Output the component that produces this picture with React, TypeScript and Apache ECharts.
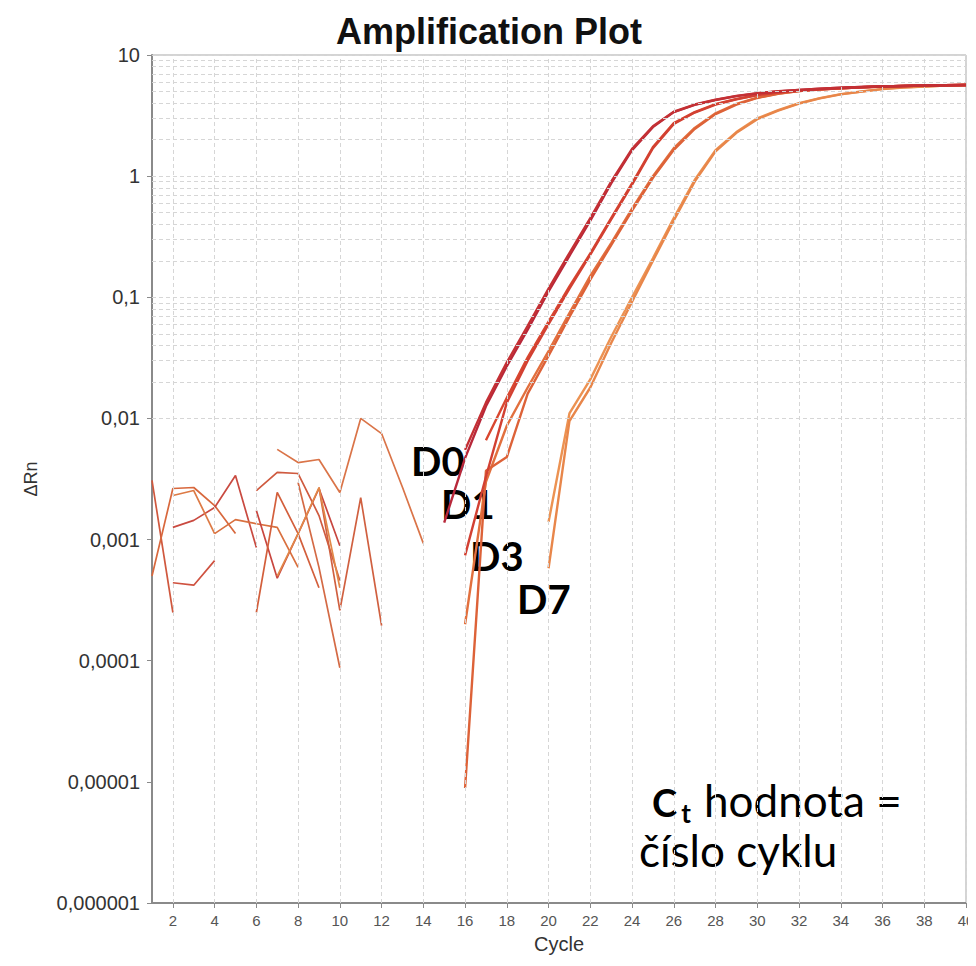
import React, { useEffect, useRef } from "react";
import * as echarts from "echarts";

// ---------- data ----------
const xTicks = [2, 4, 6, 8, 10, 12, 14, 16, 18, 20, 22, 24, 26, 28, 30, 32, 34, 36, 38, 40];

// amplification curves (cycle -> ΔRn)
const d0aCycles = [15, 16, 17, 18, 19, 20, 21, 22, 23, 24, 25, 26, 27, 28, 29, 30, 31, 32, 33, 34, 35, 36, 37, 38, 39, 40];
const d0aValues = [0.00138, 0.0047, 0.0126, 0.027, 0.054, 0.112, 0.22, 0.43, 0.87, 1.64, 2.54, 3.38, 3.87, 4.25, 4.58, 4.82, 5.0, 5.14, 5.26, 5.37, 5.44, 5.5, 5.55, 5.6, 5.62, 5.65];
const d0bCycles = [16, 17, 18, 19, 20, 21, 22, 23, 24, 25, 26, 27, 28, 29, 30, 31, 32, 33, 34, 35, 36, 37, 38, 39, 40];
const d0bValues = [0.0055, 0.0135, 0.029, 0.058, 0.118, 0.232, 0.45, 0.9, 1.68, 2.58, 3.4, 3.9, 4.27, 4.6, 4.84, 5.02, 5.15, 5.27, 5.38, 5.45, 5.5, 5.55, 5.6, 5.62, 5.65];

const d1aCycles = [17, 18, 19, 20, 21, 22, 23, 24, 25, 26, 27, 28, 29, 30, 31, 32, 33, 34, 35, 36, 37, 38, 39, 40];
const d1aValues = [0.0066, 0.0148, 0.032, 0.063, 0.123, 0.23, 0.45, 0.87, 1.74, 2.74, 3.38, 3.93, 4.33, 4.68, 4.92, 5.08, 5.2, 5.32, 5.42, 5.5, 5.55, 5.6, 5.62, 5.65];
const d1bCycles = [16, 17, 18, 19, 20, 21, 22, 23, 24, 25, 26, 27, 28, 29, 30, 31, 32, 33, 34, 35, 36, 37, 38, 39, 40];
const d1bValues = [0.00074, 0.0033, 0.0135, 0.03, 0.06, 0.118, 0.225, 0.44, 0.85, 1.7, 2.7, 3.35, 3.9, 4.3, 4.66, 4.9, 5.07, 5.2, 5.32, 5.42, 5.5, 5.55, 5.6, 5.62, 5.65];

const d3aCycles = [16, 17, 18, 19, 20, 21, 22, 23, 24, 25, 26, 27, 28, 29, 30, 31, 32, 33, 34, 35, 36, 37, 38, 39, 40];
const d3aValues = [0.0002, 0.003, 0.0087, 0.018, 0.036, 0.074, 0.15, 0.28, 0.54, 1.0, 1.7, 2.5, 3.3, 3.95, 4.45, 4.8, 5.05, 5.2, 5.32, 5.42, 5.5, 5.55, 5.6, 5.63, 5.65];
const d3bCycles = [16, 17, 18, 19, 20, 21, 22, 23, 24, 25, 26, 27, 28, 29, 30, 31, 32, 33, 34, 35, 36, 37, 38, 39, 40];
const d3bValues = [0.0000089, 0.0037, 0.0048, 0.016, 0.033, 0.069, 0.14, 0.27, 0.52, 0.97, 1.65, 2.45, 3.25, 3.9, 4.42, 4.78, 5.03, 5.19, 5.31, 5.41, 5.5, 5.55, 5.6, 5.63, 5.65];

const d7aCycles = [20, 21, 22, 23, 24, 25, 26, 27, 28, 29, 30, 31, 32, 33, 34, 35, 36, 37, 38, 39, 40];
const d7aValues = [0.0014, 0.011, 0.021, 0.047, 0.1, 0.21, 0.45, 0.93, 1.64, 2.31, 3.0, 3.5, 4.0, 4.4, 4.75, 5.0, 5.25, 5.4, 5.5, 5.6, 5.65];
const d7bCycles = [20, 21, 22, 23, 24, 25, 26, 27, 28, 29, 30, 31, 32, 33, 34, 35, 36, 37, 38, 39, 40];
const d7bValues = [0.00058, 0.0095, 0.018, 0.042, 0.092, 0.2, 0.43, 0.9, 1.6, 2.28, 2.95, 3.47, 3.97, 4.38, 4.73, 4.98, 5.23, 5.38, 5.5, 5.6, 5.65];

// early-cycle background noise
const nz1Cycles = [1, 2];
const nz1Values = [0.00308, 0.00025];
const nz2Cycles = [1, 2, 3, 4, 5];
const nz2Values = [0.0005, 0.00264, 0.00269, 0.00191, 0.00112];
const nz3Cycles = [2, 3, 4, 5, 6];
const nz3Values = [0.00126, 0.00144, 0.00184, 0.00338, 0.00086];
const nz4Cycles = [2, 3, 4];
const nz4Values = [0.00044, 0.00042, 0.00067];
const nz5Cycles = [2, 3, 4];
const nz5Values = [0.00231, 0.00254, 0.00112];
const nz6Cycles = [4, 5, 6, 7, 8];
const nz6Values = [0.00112, 0.00146, 0.00135, 0.00126, 0.00059];
const nz7Cycles = [6, 7, 8, 9, 10];
const nz7Values = [0.00254, 0.00358, 0.00351, 0.00158, 0.00046];
const nz8Cycles = [6, 7, 8, 9, 10];
const nz8Values = [0.00174, 0.00048, 0.00112, 0.00264, 0.00089];
const nz9Cycles = [6, 7, 8, 9];
const nz9Values = [0.00025, 0.00245, 0.00112, 0.0004];
const nz10Cycles = [8, 9, 10];
const nz10Values = [0.00296, 0.00059, 0.0000875];
const nz11Cycles = [9, 10, 11, 12];
const nz11Values = [0.00269, 0.00026, 0.00222, 0.000195];
const nz12Cycles = [7, 8, 9, 10, 11, 12, 13, 14];
const nz12Values = [0.00555, 0.00432, 0.00458, 0.00245, 0.01, 0.0075, 0.0027, 0.00093];
const nz13Cycles = [7, 8, 9, 10];
const nz13Values = [0.0005, 0.00112, 0.00269, 0.0004];

const zip = (c: number[], v: number[]) => c.map((x, i) => [x, v[i]]);

const fmtY = (v: number) => {
  if (v >= 1) return String(Math.round(v));
  const d = Math.round(-Math.log10(v));
  return v.toFixed(d).replace(".", ",");
};

const GRID_COLOR = "#d6d6d6";
const SANS = "'Liberation Sans', Arial, sans-serif";

export default function App() {
  const ref = useRef<HTMLDivElement>(null);
  useEffect(() => {
    if (!ref.current) return;
    const chart = echarts.init(ref.current, undefined, { renderer: "svg" });

    const hLines: number[] = [];
    for (let k = -6; k <= 0; k++) {
      for (let m = 1; m <= 9; m++) hLines.push(m * Math.pow(10, k));
    }
    hLines.push(10);

    const noise = [
      [nz1Cycles, nz1Values, "#d0583e"],
      [nz2Cycles, nz2Values, "#d8683d"],
      [nz3Cycles, nz3Values, "#c94a40"],
      [nz4Cycles, nz4Values, "#cf5240"],
      [nz5Cycles, nz5Values, "#dd7a45"],
      [nz6Cycles, nz6Values, "#d9703f"],
      [nz7Cycles, nz7Values, "#cf5a3f"],
      [nz8Cycles, nz8Values, "#c8463f"],
      [nz9Cycles, nz9Values, "#d35f3c"],
      [nz10Cycles, nz10Values, "#d46a45"],
      [nz11Cycles, nz11Values, "#d06040"],
      [nz12Cycles, nz12Values, "#da7448"],
      [nz13Cycles, nz13Values, "#e28848"],
    ] as [number[], number[], string][];

    const curves = [
      [d7aCycles, d7aValues, "#ec9252"],
      [d7bCycles, d7bValues, "#e8864a"],
      [d3aCycles, d3aValues, "#e2703e"],
      [d3bCycles, d3bValues, "#dd6238"],
      [d1aCycles, d1aValues, "#d9472f"],
      [d1bCycles, d1bValues, "#d24032"],
      [d0aCycles, d0aValues, "#b8283a"],
      [d0bCycles, d0bValues, "#c43034"],
    ] as [number[], number[], string][];

    const series: any[] = [
      {
        type: "line",
        data: [],
        silent: true,
        markLine: {
          silent: true,
          symbol: "none",
          animation: false,
          label: { show: false },
          lineStyle: { color: GRID_COLOR, type: [4, 3], width: 1 },
          data: [
            ...hLines.map((v) => ({ yAxis: v })),
            ...xTicks.map((v) => ({ xAxis: v })),
          ],
        },
      },
      ...noise.map(([c, v, col]) => ({
        type: "line",
        data: zip(c, v),
        showSymbol: false,
        symbol: "none",
        silent: true,
        lineStyle: { color: col, width: 1.7 },
      })),
      ...curves.map(([c, v, col]) => ({
        type: "line",
        data: zip(c, v),
        showSymbol: false,
        symbol: "none",
        silent: true,
        lineStyle: { color: col, width: 2.4 },
      })),
    ];

    const annFont = "Lato, 'Open Sans', sans-serif";
    const bold = (text: string, left: number, top: number, size = 40) => ({
      type: "text",
      left,
      top,
      style: { text, fontFamily: annFont, fontWeight: "bold", fontSize: size, fill: "#000" },
    });
    const option: any = {
      animation: false,
      title: {
        text: "Amplification Plot",
        left: 484 - 8,
        textAlign: "center",
        top: 0,
        textStyle: { fontFamily: SANS, fontWeight: "bold", fontSize: 36, color: "#111" },
      },
      grid: {
        left: 144,
        right: 10,
        top: 47,
        bottom: 55,
        show: true,
        borderColor: "#a8a8a8",
        borderWidth: 1,
        containLabel: false,
        outerBoundsMode: "none",
      },
      xAxis: {
        type: "value",
        min: 1,
        max: 40,
        name: "Cycle",
        nameLocation: "middle",
        nameGap: 31,
        nameTextStyle: { fontFamily: SANS, fontSize: 20, color: "#333" },
        axisLine: { show: true, onZero: false, lineStyle: { color: "#8a8a8a", width: 2 } },
        axisTick: { show: true, customValues: xTicks, length: 5, lineStyle: { color: "#8a8a8a" } },
        axisLabel: { customValues: xTicks, fontFamily: SANS, fontSize: 15, color: "#555", margin: 10, hideOverlap: false },
        splitLine: { show: false },
      },
      yAxis: {
        type: "log",
        logBase: 10,
        min: 0.000001,
        max: 10,
        interval: 1,
        name: "ΔRn",
        nameLocation: "middle",
        nameGap: 112,
        nameRotate: 90,
        nameTextStyle: { fontFamily: SANS, fontSize: 18, color: "#333" },
        axisLine: { show: true, onZero: false, lineStyle: { color: "#8a8a8a", width: 2 } },
        axisTick: { show: true, length: 5, lineStyle: { color: "#8a8a8a" } },
        axisLabel: { formatter: fmtY, fontFamily: SANS, fontSize: 20, color: "#333", margin: 12 },
        splitLine: { show: false },
      },
      graphic: [
        bold("D0", 403, 433),
        bold("D1", 433, 476),
        bold("D3", 462, 528),
        bold("D7", 509, 571),
        {
          type: "text",
          left: 644,
          top: 775,
          style: {
            text: "{c|C}{t|t}",
            fontFamily: annFont,
            fill: "#000",
            rich: {
              c: { fontFamily: annFont, fontWeight: "bold", fontSize: 38, lineHeight: 38, verticalAlign: "top", fill: "#000" },
              t: { fontFamily: annFont, fontWeight: "bold", fontSize: 26, lineHeight: 26, verticalAlign: "top", padding: [17, 0, 0, 4], fill: "#000" },
            },
          },
        },
        {
          type: "text",
          left: 696,
          top: 770,
          style: { text: "hodnota =", fontFamily: annFont, fontSize: 44, fill: "#000" },
        },
        {
          type: "text",
          left: 631,
          top: 820,
          style: { text: "číslo cyklu", fontFamily: annFont, fontSize: 44, fill: "#000" },
        },
      ],
      series,
    };
    chart.setOption(option);
    return () => chart.dispose();
  }, []);
  return <div ref={ref} style={{ width: 968, height: 950 }} />;
}
